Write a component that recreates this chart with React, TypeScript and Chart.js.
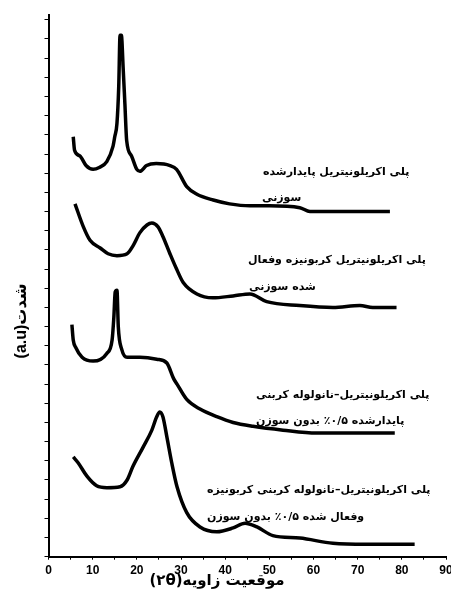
import React, { useEffect, useRef } from 'react';
import { Chart, registerables } from 'chart.js';

Chart.register(...registerables);

// ---------- data ----------
const xTicks = [0, 10, 20, 30, 40, 50, 60, 70, 80, 90];

const pan_x = [5.6, 5.9, 7.1, 8.5, 10.1, 11.5, 13.2, 14.6, 15.0, 15.5, 15.9, 16.2, 16.5, 16.9, 17.3, 17.7, 18.8, 20.0, 20.7, 22.2, 24.4, 27.5, 29.0, 31.3, 33.6, 37.3, 41.0, 45.6, 50.0, 56.9, 59.2, 64.4, 70.0, 77.3];
const pan_y = [21.9, 21.2, 20.9, 20.4, 20.2, 20.3, 20.6, 21.4, 21.9, 22.6, 24.5, 27.2, 27.2, 25.5, 23.6, 21.7, 20.9, 20.2, 20.1, 20.4, 20.5, 20.4, 20.2, 19.3, 18.9, 18.6, 18.4, 18.3, 18.3, 18.2, 18.0, 18.0, 18.0, 18.0];

const panC_x = [6.0, 7.9, 9.4, 11.7, 13.5, 15.5, 17.8, 19.1, 20.7, 22.3, 23.4, 24.8, 25.9, 27.5, 29.0, 30.5, 33.6, 37.2, 41.8, 45.6, 49.4, 56.9, 64.4, 70.5, 73.4, 78.8];
const panC_y = [18.4, 17.2, 16.5, 16.1, 15.8, 15.7, 15.8, 16.2, 16.9, 17.3, 17.4, 17.2, 16.7, 15.8, 15.0, 14.3, 13.7, 13.5, 13.6, 13.7, 13.3, 13.1, 13.0, 13.1, 13.0, 13.0];

const cnt_x = [5.3, 5.6, 6.2, 7.6, 10.1, 13.2, 14.4, 14.8, 15.1, 15.5, 15.8, 16.6, 17.8, 20.7, 24.5, 26.8, 28.3, 29.1, 31.3, 34.3, 38.1, 41.8, 46.3, 53.1, 60.7, 71.9, 78.4];
const cnt_y = [12.1, 11.3, 10.9, 10.4, 10.2, 10.6, 11.3, 12.5, 13.8, 13.9, 12.0, 10.8, 10.4, 10.4, 10.3, 10.1, 9.3, 9.0, 8.2, 7.7, 7.3, 7.0, 6.8, 6.6, 6.45, 6.45, 6.45];

const cntC_x = [5.6, 6.7, 8.7, 10.9, 13.2, 16.2, 17.8, 19.1, 21.4, 23.4, 24.5, 25.2, 25.9, 26.8, 27.9, 29.1, 31.3, 34.3, 38.1, 41.8, 44.5, 47.2, 50.8, 56.9, 64.4, 71.9, 82.9];
const cntC_y = [5.2, 4.9, 4.2, 3.7, 3.6, 3.65, 4.0, 4.7, 5.7, 6.6, 7.3, 7.55, 7.3, 6.25, 4.9, 3.65, 2.3, 1.55, 1.3, 1.5, 1.75, 1.55, 1.1, 0.97, 0.7, 0.65, 0.65];

const seriesX = [pan_x, panC_x, cnt_x, cntC_x];
const seriesY = [pan_y, panC_y, cnt_y, cntC_y];

const labelLines = [
  'پلی اکریلونیتریل پایدارشده',
  'سوزنی',
  'پلی اکریلونیتریل کربونیزه وفعال',
  'شده سوزنی',
  'پلی اکریلونیتریل–نانولوله کربنی',
  'پایدارشده ۰/۵٪ بدون سوزن',
  'پلی اکریلونیتریل–نانولوله کربنی کربونیزه',
  'وفعال شده ۰/۵٪ بدون سوزن',
];
const xTitle = 'موقعیت زاویه(۲θ)';
const yTitle = '(a.u)شدت';

// ---------- layout ----------
const labelPos: [number, number][] = [
  [263, 172], [262, 198],
  [248, 260], [249, 287],
  [256, 395], [256, 421],
  [207, 490], [207, 517],
];

const textPlugin = {
  id: 'persianTexts',
  afterDraw(chart: any) {
    const ctx = chart.ctx as CanvasRenderingContext2D;
    ctx.save();
    ctx.fillStyle = '#000';
    ctx.textBaseline = 'middle';
    ctx.textAlign = 'left';
    (ctx as any).direction = 'ltr';
    ctx.font = 'bold 11px "DejaVu Sans"';
    labelLines.forEach((t, i) => ctx.fillText(t, labelPos[i][0], labelPos[i][1]));

    ctx.font = 'bold 15px "DejaVu Sans"';
    (ctx as any).direction = 'rtl';
    ctx.textAlign = 'center';
    ctx.fillText(xTitle, 217, 581);

    ctx.translate(22, 321);
    ctx.rotate(-Math.PI / 2);
    (ctx as any).direction = 'ltr';
    ctx.textAlign = 'center';
    ctx.font = 'bold 16px "Liberation Sans", "DejaVu Sans"';
    ctx.fillText(yTitle, 0, 0);
    ctx.restore();
  },
};

export default function App() {
  const ref = useRef<HTMLCanvasElement | null>(null);
  useEffect(() => {
    if (!ref.current) return;
    const datasets = seriesX.map((xs, k) => ({
      data: xs.map((x, i) => ({ x, y: seriesY[k][i] })),
      borderColor: '#000',
      borderWidth: 3.5,
      pointRadius: 0,
      fill: false,
      cubicInterpolationMode: 'monotone' as const,
    }));
    const chart = new Chart(ref.current, {
      type: 'line',
      data: { datasets },
      options: {
        animation: false,
        responsive: false,
        devicePixelRatio: 1,
        layout: { padding: { left: 0, right: 5, top: 15, bottom: 0 } },
        plugins: { legend: { display: false }, tooltip: { enabled: false } },
        scales: {
          x: {
            type: 'linear',
            min: 0,
            max: 90,
            border: { display: true, color: '#000', width: 2 },
            grid: { display: true, drawOnChartArea: false, drawTicks: true, tickLength: 3, color: '#000', lineWidth: 1 },
            ticks: {
              stepSize: 5,
              autoSkip: false,
              maxRotation: 0,
              padding: 4,
              color: '#000',
              font: { family: '"Liberation Sans", Arial, sans-serif', size: 12, weight: 'bold' },
              callback: (v: any) => (xTicks.includes(Number(v)) ? String(v) : ''),
            },
            afterFit(scale: any) {
              scale.height = 35.3;
              scale.paddingLeft = 0;
              scale.paddingRight = 0;
            },
          },
          y: {
            type: 'linear',
            min: 0,
            max: 28.25,
            border: { display: true, color: '#000', width: 2 },
            grid: { display: true, drawOnChartArea: false, drawTicks: true, tickLength: 4, color: '#000', lineWidth: 1 },
            ticks: { stepSize: 1, includeBounds: false, display: false },
            afterFit(scale: any) {
              scale.width = 48.5;
              scale.paddingTop = 0;
              scale.paddingBottom = 0;
            },
          },
        },
      },
      plugins: [textPlugin],
    });
    return () => chart.destroy();
  }, []);
  return (
    <canvas
      ref={ref}
      width={451}
      height={592}
      style={{ position: 'absolute', left: 0, top: 0, background: '#fff' }}
    />
  );
}
